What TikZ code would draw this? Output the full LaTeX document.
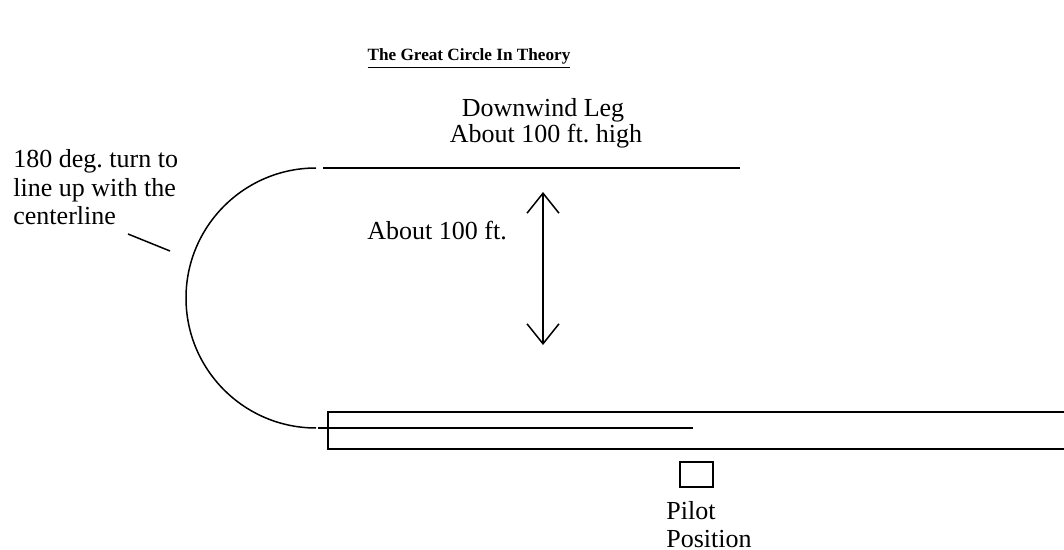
\documentclass[tikz,border=0pt]{standalone}
\usepackage{fontspec}
\setmainfont{Liberation Serif}
\usetikzlibrary{arrows.meta,positioning}
\frenchspacing

\begin{document}
\begin{tikzpicture}[
  x=0.5pt, y=-0.5pt,
  node distance=4pt,
  lbl/.style={font=\fontsize{13}{14.3}\selectfont, inner sep=0pt, align=left},
  titlelbl/.style={font=\fontsize{8.6}{10}\selectfont\bfseries, inner sep=0pt},
  track/.style={line width=0.75pt},
  dimline/.style={line width=0.75pt, {Straight Barb[length=10pt,width=16pt]}-{Straight Barb[length=10pt,width=16pt]}},
  pilotbox/.style={draw, line width=0.75pt, minimum width=16.5pt, minimum height=12.5pt, inner sep=0pt}
]
\useasboundingbox (0,0) rectangle (1064,550);
\node[titlelbl, anchor=base] (title) at (469,61) {\underline{The Great Circle In Theory}};
\node[lbl, anchor=base] (leg) at (543,117) {Downwind Leg};
\node[lbl, anchor=base] (high) at (546,143) {About 100 ft. high};
\node[lbl, anchor=north west] (turn) at (13,149) {180 deg. turn to\\line up with the\\centerline};
\node[lbl, anchor=base west] (gaplbl) at (367,240) {About 100 ft.};
\node[pilotbox] (pilot) at (696.5,474.5) {};
\node[lbl, anchor=north west, font=\fontsize{13}{13.8}\selectfont] (pilotlbl) at (666,501) {Pilot\\Position};
\coordinate (legW) at (323,168);
\coordinate (legE) at (740,168);
\coordinate (turnW) at (316,168);
\coordinate (lineW) at (318,428);
\coordinate (lineE) at (693,428);
\coordinate (rwySW) at (328,449);
\coordinate (rwyNE) at (1070,412);
\coordinate (gapN) at (543,192);
\coordinate (gapS) at (543,345);
\coordinate (ptrfoot) at (128,234);
\coordinate (ptrtip) at (170,251);
\draw[track] (legW) -- (legE);
\draw[track] (turnW) arc[start angle=90, end angle=270, radius=65pt];
\draw[track] (lineW) -- (lineE);
\draw[track] (rwySW) rectangle (rwyNE);
\draw[dimline] (gapN) -- (gapS);
\draw[track] (ptrfoot) -- (ptrtip);
\end{tikzpicture}
\end{document}
